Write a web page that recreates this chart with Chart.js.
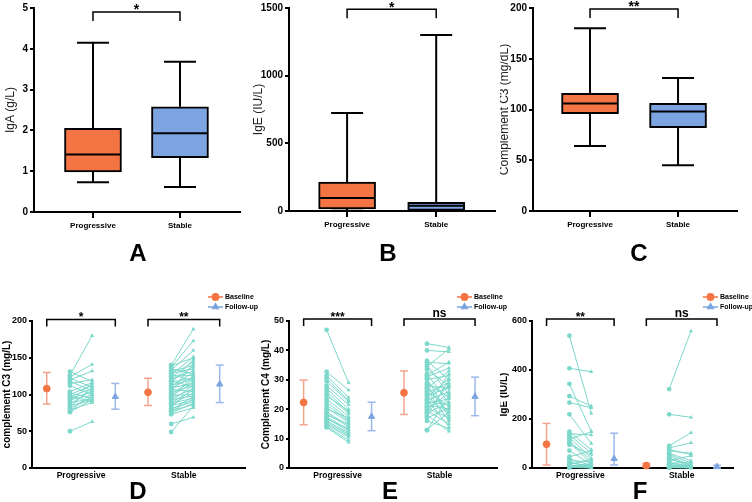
<!DOCTYPE html>
<html>
<head>
<meta charset="utf-8">
<script src="https://cdn.jsdelivr.net/npm/chart.js@4.4.1/dist/chart.umd.min.js"></script>
<style>
  body { margin: 0; background: #fff; }
  #wrap { position: relative; width: 752px; height: 502px; overflow: hidden; }
  canvas { position: absolute; }
  .letter { position: absolute; font: bold 24px Arial, "Liberation Sans", sans-serif; color: #000;
            transform: translate(-50%, -50%); line-height: 1; }
</style>
</head>
<body>
<div id="wrap">
  <canvas id="cA" width="250" height="240" style="left:0;top:0"></canvas>
  <canvas id="cB" width="250" height="240" style="left:250px;top:0"></canvas>
  <canvas id="cC" width="252" height="240" style="left:500px;top:0"></canvas>
  <canvas id="cD" width="262" height="210" style="left:0;top:280px"></canvas>
  <canvas id="cE" width="262" height="210" style="left:250px;top:280px"></canvas>
  <canvas id="cF" width="252" height="210" style="left:500px;top:280px"></canvas>
  <div class="letter" style="left:138px;top:253px">A</div>
  <div class="letter" style="left:388px;top:253px">B</div>
  <div class="letter" style="left:639px;top:253px">C</div>
  <div class="letter" style="left:138px;top:491px">D</div>
  <div class="letter" style="left:390px;top:491px">E</div>
  <div class="letter" style="left:640px;top:491px">F</div>
</div>
<script>
// ---- data ----
var groups = ['Progressive', 'Stable'];

// box plots: [min, q1, median, q3, max]
var igaProgressive = [0.73, 0.98, 1.41, 2.05, 4.15];
var igaStable = [0.61, 1.33, 1.93, 2.58, 3.68];
var igeProgressive = [1, 15, 96, 213, 725];
var igeStable = [0, 5, 39, 64, 1300];
var c3Progressive = [64, 96, 106, 116, 180];
var c3Stable = [45, 82, 98, 106, 131];

var igaTicks = [0, 1, 2, 3, 4, 5];
var igeTicks = [0, 500, 1000, 1500];
var c3Ticks = [0, 50, 100, 150, 200];
var topSig = ['*', '*', '**'];

// paired baseline / follow-up values
var c3ProgBase = [131, 126, 124, 122, 120, 118, 115, 112, 104, 102, 100, 98, 97, 95, 93, 91, 89, 87, 85, 83, 81, 79, 77, 76, 50];
var c3ProgFollow = [118, 180, 141, 110, 132, 105, 120, 100, 116, 95, 112, 90, 108, 103, 99, 115, 94, 106, 92, 110, 97, 89, 102, 93, 63];
var c3StableBase = [140, 139, 137, 135, 133, 131, 129, 128, 127, 125, 123, 121, 119, 118, 117, 115, 113, 111, 109, 108, 107, 105, 103, 101, 99, 98, 97, 95, 93, 91, 89, 88, 87, 85, 83, 81, 79, 78, 77, 75, 73, 60, 49];
var c3StableFollow = [189, 150, 173, 128, 160, 140, 135, 118, 151, 126, 145, 132, 110, 138, 122, 148, 120, 130, 115, 125, 104, 142, 112, 119, 100, 116, 124, 108, 98, 113, 106, 95, 102, 92, 109, 90, 97, 86, 94, 88, 82, 69, 84];

var c4ProgBase = [47, 32.8, 31.5, 30.5, 29.5, 28, 27, 26, 25, 24.5, 23.5, 22.5, 21.5, 20.5, 20, 19, 18.5, 18, 17.5, 17, 16.5, 16, 15.5, 15, 14.5, 14, 13.8];
var c4ProgFollow = [29, 26.5, 24, 23, 22.5, 21.5, 20, 19, 18.5, 19.5, 17.5, 16.5, 16, 15.5, 17, 14.5, 14, 15, 13, 12.5, 13.5, 12, 11.5, 11, 10.5, 9.5, 8.7];
var c4StableBase = [42.3, 40, 36.5, 36, 35, 34.5, 33.5, 32, 31.5, 30.5, 30, 29, 28, 27.5, 27, 26, 25.5, 25, 24, 23.5, 23, 22, 21.5, 21, 20.5, 20, 19.5, 19, 18.5, 18, 17.5, 17, 13, 12.8, 16, 28.5, 24.5, 22.5, 26.5, 31];
var c4StableFollow = [41, 39.5, 30, 35.5, 25, 40.5, 28, 22, 36, 18, 31.5, 24, 27, 19, 33, 21, 29, 16.5, 30.5, 14, 26, 23.5, 20, 32, 17, 25.5, 15, 28.5, 22.5, 12.5, 30, 20.5, 19, 24.5, 13.5, 17.5, 27.5, 21.5, 16, 34];

var igeProgBase = [540, 407, 343, 293, 267, 219, 148, 140, 135, 125, 118, 110, 103, 95, 71, 46, 38, 30, 25, 20, 15, 12, 10, 8, 5, 3, 2];
var igeProgFollow = [223, 393, 150, 253, 246, 100, 75, 135, 60, 40, 148, 30, 20, 55, 15, 70, 10, 25, 5, 8, 35, 3, 12, 2, 18, 4, 0];
var igeStableBase = [322, 219, 90, 82, 75, 70, 60, 55, 48, 40, 35, 30, 25, 20, 18, 15, 12, 10, 8, 6, 5, 4, 3, 2, 1];
var igeStableFollow = [559, 207, 144, 103, 55, 60, 30, 20, 10, 5, 15, 50, 3, 8, 25, 2, 12, 5, 0, 4, 1, 3, 6, 0, 2];

// group summaries [Progressive, Stable]
var c3BaseMean = [108, 103], c3BaseLo = [87, 85], c3BaseHi = [130, 122];
var c3FollowMean = [97, 114], c3FollowLo = [80, 89], c3FollowHi = [115, 140];
var c4BaseMean = [22.3, 25.6], c4BaseLo = [14.7, 18.2], c4BaseHi = [29.9, 33];
var c4FollowMean = [17.5, 24.3], c4FollowLo = [12.7, 17.8], c4FollowHi = [22.4, 30.9];
var igeBaseMean = [97, 10], igeBaseLo = [12, 4], igeBaseHi = [182, 18];
var igeFollowMean = [38, 5], igeFollowLo = [12, 0], igeFollowHi = [142, 11];

var c3PairTicks = [0, 50, 100, 150, 200];
var c4PairTicks = [0, 10, 20, 30, 40, 50];
var igePairTicks = [0, 200, 400, 600];
var c3PairSig = ['*', '**'];
var c4PairSig = ['***', 'ns'];
var igePairSig = ['**', 'ns'];

// ---- styling / layout ----
var ORANGE = '#F47443';
var BLUE = '#7BA4E0';
var TEAL = '#7CD8CA';
var ORANGE_ERR = '#F4A38C';
var BLUE_ERR = '#9BB7EC';
var FONT = 'Arial, "Liberation Sans", sans-serif';
// x slots per group: baseline mean, baseline points, follow-up points, follow-up mean
var X_POS = [0.7, 1.8, 2.85, 3.95, 5.5, 6.6, 7.65, 8.9];

Chart.defaults.font.family = FONT;
Chart.defaults.color = '#000';

function setTicks(values) {
  return function(scale) {
    scale.ticks = values.map(function(v) { return {value: v}; });
  };
}

function fixSize(prop, n) {
  return function(scale) { scale[prop] = n; };
}

function plainNumber(v) {
  return String(v);
}

function line(ctx, x1, y1, x2, y2) {
  ctx.beginPath();
  ctx.moveTo(x1, y1);
  ctx.lineTo(x2, y2);
  ctx.stroke();
}

function bracketPlugin(items) {
  return {
    id: 'sigBrackets',
    afterDraw: function(chart) {
      var ctx = chart.ctx, xs = chart.scales.x, ys = chart.scales.y;
      ctx.save();
      ctx.strokeStyle = '#000';
      ctx.fillStyle = '#000';
      ctx.lineWidth = 1.5;
      items.forEach(function(b) {
        var x1 = xs.getPixelForValue(b.from), x2 = xs.getPixelForValue(b.to);
        var y = ys.getPixelForValue(b.at);
        ctx.beginPath();
        ctx.moveTo(x1, y + b.leg);
        ctx.lineTo(x1, y);
        ctx.lineTo(x2, y);
        ctx.lineTo(x2, y + b.leg);
        ctx.stroke();
        ctx.font = 'bold ' + b.size + 'px ' + FONT;
        ctx.textAlign = 'center';
        ctx.textBaseline = 'middle';
        var isStar = b.text.indexOf('*') >= 0;
        ctx.fillText(b.text, (x1 + x2) / 2, y - (isStar ? 1.5 : 5));
      });
      ctx.restore();
    }
  };
}

function whiskerPlugin(stats) {
  return {
    id: 'whiskers',
    afterDatasetsDraw: function(chart) {
      var ctx = chart.ctx, xs = chart.scales.x, ys = chart.scales.y;
      var bars = chart.getDatasetMeta(0).data;
      ctx.save();
      ctx.strokeStyle = '#000';
      ctx.lineWidth = 2;
      stats.forEach(function(s, i) {
        var cx = xs.getPixelForValue(i);
        var half = bars[i].width / 2;
        var yMin = ys.getPixelForValue(s[0]), yQ1 = ys.getPixelForValue(s[1]);
        var yMed = ys.getPixelForValue(s[2]), yQ3 = ys.getPixelForValue(s[3]);
        var yMax = ys.getPixelForValue(s[4]);
        line(ctx, cx, yQ1, cx, yMin);
        line(ctx, cx, yQ3, cx, yMax);
        line(ctx, cx - 16, yMin, cx + 16, yMin);
        line(ctx, cx - 16, yMax, cx + 16, yMax);
        line(ctx, cx - half + 1, yMed, cx + half - 1, yMed);
      });
      ctx.restore();
    }
  };
}

function boxChart(id, stats, ticks, title, o) {
  return new Chart(document.getElementById(id), {
    type: 'bar',
    data: {
      datasets: [{
        data: stats.map(function(s, i) { return {x: i, y: [s[1], s[3]]}; }),
        backgroundColor: [ORANGE, BLUE],
        borderColor: '#000',
        borderWidth: 2,
        borderSkipped: false,
        barThickness: 57
      }]
    },
    options: {
      responsive: false,
      animation: false,
      events: [],
      layout: {padding: {top: 7, right: o.padRight, left: 0, bottom: 0}},
      plugins: {legend: {display: false}, tooltip: {enabled: false}},
      scales: {
        x: {
          type: 'linear', min: o.xMin, max: o.xMax, offset: false,
          afterBuildTicks: setTicks([0, 1]),
          afterFit: fixSize('height', o.xHeight),
          ticks: {
            autoSkip: false, maxRotation: 0, padding: 3,
            font: {size: 8, weight: 'bold'},
            callback: function(v, i) { return groups[i]; }
          },
          grid: {display: true, offset: false, drawOnChartArea: false, drawTicks: true, tickLength: 6, color: '#000', lineWidth: 2},
          border: {display: true, color: '#000', width: 2}
        },
        y: {
          min: ticks[0], max: ticks[ticks.length - 1],
          afterBuildTicks: setTicks(ticks),
          afterFit: fixSize('width', o.yWidth),
          ticks: {padding: 2, font: {size: 10, weight: 'bold'}, callback: plainNumber},
          grid: {display: true, drawOnChartArea: false, drawTicks: true, tickLength: 4, color: '#000', lineWidth: 2},
          border: {display: true, color: '#000', width: 2},
          title: {display: true, text: title, font: {size: 12}, color: '#222', padding: {top: o.titlePad, bottom: 0}}
        }
      }
    },
    plugins: [
      whiskerPlugin(stats),
      bracketPlugin([{from: 0, to: 1, at: o.bracketAt, leg: 9, text: o.sig, size: 14}])
    ]
  });
}

function pairData(base, follow, x0, x1) {
  var out = [];
  for (var i = 0; i < base.length; i++) {
    out.push({x: x0, y: base[i]}, {x: x1, y: follow[i]}, {x: x1, y: null});
  }
  return out;
}

function pairStyle(c) {
  return c.dataIndex % 3 === 0 ? 'circle' : 'triangle';
}

function errorBarPlugin(bars) {
  return {
    id: 'errBars',
    beforeDatasetsDraw: function(chart) {
      var ctx = chart.ctx, xs = chart.scales.x, ys = chart.scales.y;
      ctx.save();
      ctx.lineWidth = 1.5;
      bars.forEach(function(b) {
        ctx.strokeStyle = b.color;
        b.x.forEach(function(xv, i) {
          var px = xs.getPixelForValue(xv);
          var y1 = ys.getPixelForValue(b.lo[i]), y2 = ys.getPixelForValue(b.hi[i]);
          line(ctx, px, y1, px, y2);
          line(ctx, px - 4, y1, px + 4, y1);
          line(ctx, px - 4, y2, px + 4, y2);
        });
      });
      ctx.restore();
    }
  };
}

function legendPlugin(dx, dy) {
  return {
    id: 'gpLegend',
    afterDraw: function(chart) {
      var ctx = chart.ctx, a = chart.chartArea;
      var items = chart.data.datasets.filter(function(d) { return d.label; });
      ctx.save();
      items.forEach(function(d, i) {
        var x = a.right + dx, y = a.top + dy + i * 10;
        ctx.strokeStyle = d.borderColor;
        ctx.fillStyle = d.backgroundColor;
        ctx.lineWidth = 1.5;
        line(ctx, x, y, x + 15, y);
        Chart.helpers.drawPoint(ctx, {pointStyle: d.pointStyle, radius: 3.2, rotation: 0, borderWidth: 1}, x + 7.5, y);
        ctx.fillStyle = '#000';
        ctx.font = 'bold 7px ' + FONT;
        ctx.textAlign = 'left';
        ctx.textBaseline = 'middle';
        ctx.fillText(d.label, x + 17, y);
      });
      ctx.restore();
    }
  };
}

function pairedChart(id, p, o) {
  var mids = [(X_POS[0] + X_POS[3]) / 2, (X_POS[4] + X_POS[7]) / 2];
  var teal = {
    showLine: true, borderColor: TEAL, backgroundColor: TEAL, borderWidth: 1,
    pointBackgroundColor: TEAL, pointBorderColor: TEAL, pointBorderWidth: 0,
    pointRadius: 2.4, pointStyle: pairStyle, spanGaps: false, clip: false
  };
  var datasets = [
    Object.assign({data: pairData(p.progBase, p.progFollow, X_POS[1], X_POS[2])}, teal),
    Object.assign({data: pairData(p.stableBase, p.stableFollow, X_POS[5], X_POS[6])}, teal),
    {label: 'Baseline', data: [{x: X_POS[0], y: p.baseMean[0]}, {x: X_POS[4], y: p.baseMean[1]}],
     pointStyle: 'circle', pointRadius: 3.4, borderColor: ORANGE, backgroundColor: ORANGE,
     pointBackgroundColor: ORANGE, pointBorderColor: ORANGE, showLine: false, clip: false},
    {label: 'Follow-up', data: [{x: X_POS[3], y: p.followMean[0]}, {x: X_POS[7], y: p.followMean[1]}],
     pointStyle: 'triangle', pointRadius: 3.6, borderColor: BLUE, backgroundColor: BLUE,
     pointBackgroundColor: BLUE, pointBorderColor: BLUE, showLine: false, clip: false}
  ];
  return new Chart(document.getElementById(id), {
    type: 'scatter',
    data: {datasets: datasets},
    options: {
      responsive: false,
      animation: false,
      events: [],
      layout: {padding: {top: 41, right: o.padRight, left: 0, bottom: 0}},
      plugins: {legend: {display: false}, tooltip: {enabled: false}},
      scales: {
        x: {
          type: 'linear', min: 0, max: o.xMax,
          afterBuildTicks: setTicks(mids),
          afterFit: fixSize('height', 22),
          ticks: {
            autoSkip: false, maxRotation: 0, padding: 3,
            font: {size: 8.5, weight: 'bold'},
            callback: function(v, i) { return groups[i]; }
          },
          grid: {display: false, drawTicks: false},
          border: {display: true, color: '#000', width: 2}
        },
        y: {
          min: p.ticks[0], max: p.ticks[p.ticks.length - 1],
          afterBuildTicks: setTicks(p.ticks),
          afterFit: fixSize('width', o.yWidth),
          ticks: {padding: 2, font: {size: 9, weight: 'bold'}, callback: plainNumber},
          grid: {display: true, drawOnChartArea: false, drawTicks: true, tickLength: 3, color: '#000', lineWidth: 2},
          border: {display: true, color: '#000', width: 2},
          title: {display: true, text: p.title, font: {size: 10, weight: 'bold'}, padding: {top: o.titlePad, bottom: 0}}
        }
      }
    },
    plugins: [
      errorBarPlugin([
        {x: [X_POS[0], X_POS[4]], lo: p.baseLo, hi: p.baseHi, color: ORANGE_ERR},
        {x: [X_POS[3], X_POS[7]], lo: p.followLo, hi: p.followHi, color: BLUE_ERR}
      ]),
      bracketPlugin([
        {from: X_POS[0], to: X_POS[3], at: o.bracketAt, leg: 7, text: p.sig[0], size: 12},
        {from: X_POS[4], to: X_POS[7], at: o.bracketAt, leg: 7, text: p.sig[1], size: 12}
      ]),
      legendPlugin(o.legendDx, -24)
    ]
  });
}

// ---- top row ----
boxChart('cA', [igaProgressive, igaStable], igaTicks, 'IgA (g/L)',
  {xMin: -0.678, xMax: 1.69, yWidth: 34, padRight: 10, xHeight: 28, titlePad: 3, bracketAt: 4.9, sig: topSig[0]});
boxChart('cB', [igeProgressive, igeStable], igeTicks, 'IgE (IU/L)',
  {xMin: -0.652, xMax: 1.66, yWidth: 39, padRight: 5, xHeight: 29, titlePad: 1, bracketAt: 1490, sig: topSig[1]});
boxChart('cC', [c3Progressive, c3Stable], c3Ticks, 'Complement C3 (mg/dL)',
  {xMin: -0.648, xMax: 1.67, yWidth: 33, padRight: 15, xHeight: 29, titlePad: -3, bracketAt: 199, sig: topSig[2]});

// ---- bottom row ----
pairedChart('cD', {
  progBase: c3ProgBase, progFollow: c3ProgFollow, stableBase: c3StableBase, stableFollow: c3StableFollow,
  baseMean: c3BaseMean, baseLo: c3BaseLo, baseHi: c3BaseHi,
  followMean: c3FollowMean, followLo: c3FollowLo, followHi: c3FollowHi,
  ticks: c3PairTicks, sig: c3PairSig, title: 'complement C3 (mg/L)'
}, {xMax: 10.1, yWidth: 32, padRight: 17, titlePad: 1, bracketAt: 202, legendDx: -37});

pairedChart('cE', {
  progBase: c4ProgBase, progFollow: c4ProgFollow, stableBase: c4StableBase, stableFollow: c4StableFollow,
  baseMean: c4BaseMean, baseLo: c4BaseLo, baseHi: c4BaseHi,
  followMean: c4FollowMean, followLo: c4FollowLo, followHi: c4FollowHi,
  ticks: c4PairTicks, sig: c4PairSig, title: 'Complement C4 (mg/L)'
}, {xMax: 9.95, yWidth: 39, padRight: 15, titlePad: 10, bracketAt: 50.7, legendDx: -40});

pairedChart('cF', {
  progBase: igeProgBase, progFollow: igeProgFollow, stableBase: igeStableBase, stableFollow: igeStableFollow,
  baseMean: igeBaseMean, baseLo: igeBaseLo, baseHi: igeBaseHi,
  followMean: igeFollowMean, followLo: igeFollowLo, followHi: igeFollowHi,
  ticks: igePairTicks, sig: igePairSig, title: 'IgE (IU/L)'
}, {xMax: 9.67, yWidth: 32, padRight: 19, titlePad: -2, bracketAt: 608, legendDx: -30});
</script>
</body>
</html>
